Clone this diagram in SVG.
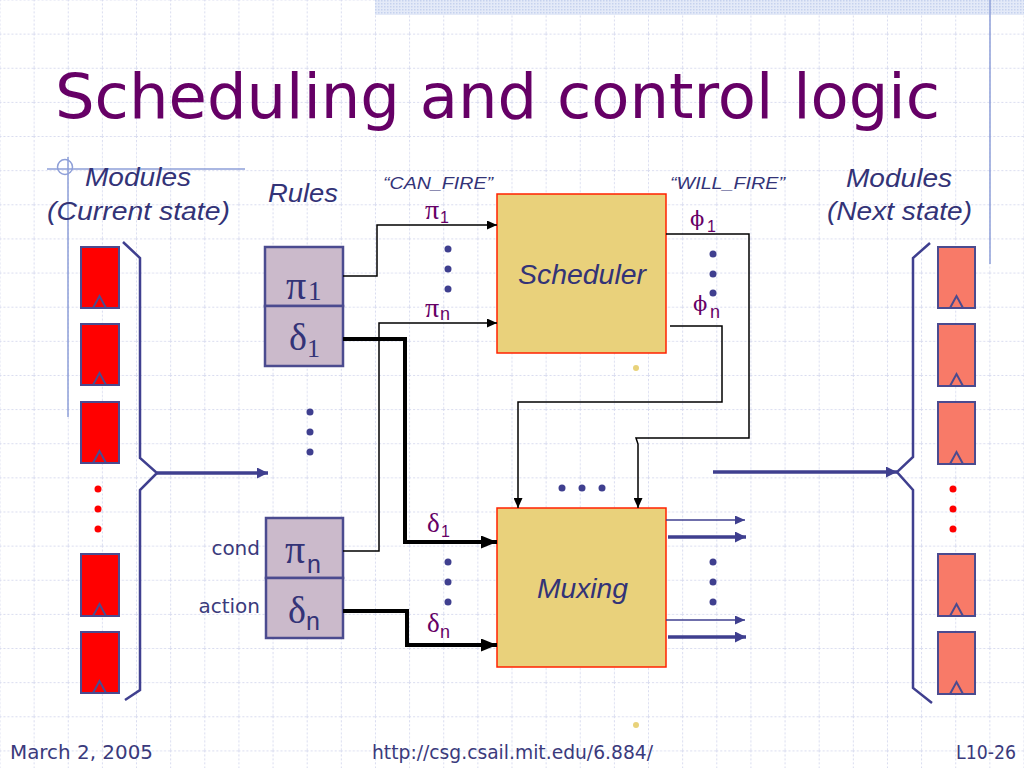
<svg xmlns="http://www.w3.org/2000/svg" width="1024" height="768" viewBox="0 0 1024 768">
<defs>
<pattern id="grid" width="34.1333" height="34.1333" patternUnits="userSpaceOnUse" x="-0.5" y="-0.5">
<path d="M0.5 0 V34.1333 M0 0.5 H34.1333" stroke="#d8dbef" stroke-width="1" stroke-dasharray="2 2" fill="none"/>
</pattern>
<pattern id="stip" width="3" height="3" patternUnits="userSpaceOnUse">
<rect width="3" height="3" fill="#e4eaf8"/>
<rect width="1.5" height="1.5" fill="#c6d2ee"/>
</pattern>
<marker id="ah" markerUnits="userSpaceOnUse" markerWidth="11" markerHeight="9" refX="10" refY="4.5" orient="auto">
<path d="M0,0 L10,4.5 L0,9 z" fill="#000"/>
</marker>
<marker id="ahT" markerUnits="userSpaceOnUse" markerWidth="17" markerHeight="13" refX="16" refY="6.5" orient="auto">
<path d="M0,0 L16,6.5 L0,13 z" fill="#000"/>
</marker>
<marker id="ab" markerUnits="userSpaceOnUse" markerWidth="11" markerHeight="9" refX="10" refY="4.5" orient="auto">
<path d="M0,0 L10,4.5 L0,9 z" fill="#3f3f8f"/>
</marker>
<marker id="abT" markerUnits="userSpaceOnUse" markerWidth="12" markerHeight="11" refX="11" refY="5.5" orient="auto">
<path d="M0,0 L11,5.5 L0,11 z" fill="#3f3f8f"/>
</marker>
</defs>
<style>
.title{font-family:"DejaVu Sans","Liberation Sans",sans-serif;font-size:62px;fill:#660066}
.lbl{font-family:"Liberation Sans",Arial,sans-serif;font-style:italic;fill:#333377}
.tah{font-family:"DejaVu Sans","Liberation Sans",sans-serif;fill:#3a3a7c}
.gr{font-family:"Liberation Serif","Times New Roman",serif;fill:#333377}
.sub{font-family:"Liberation Sans",Arial,sans-serif;fill:#333377}
.pgr{font-family:"Liberation Serif","DejaVu Serif","Times New Roman",serif;fill:#660066}
.phi{font-family:"DejaVu Serif","Liberation Serif",serif;fill:#660066}
.psub{font-family:"Liberation Sans",Arial,sans-serif;fill:#660066}
.mod{fill:#ff0000;stroke:#4b4b8f;stroke-width:2}
.modn{fill:#f87a68;stroke:#4b4b8f;stroke-width:2}
.tri{fill:none;stroke:#4b4b8f;stroke-width:2}
.rule{fill:#cbbacb;stroke:#4b4b8f;stroke-width:2.5}
.blk{fill:#e9d17b;stroke:#ff2200;stroke-width:1.5}
.br{fill:none;stroke:#3f3f8f;stroke-width:2.5}
.wire{fill:none;stroke:#000;stroke-width:1.5}
.wireT{fill:none;stroke:#000;stroke-width:4}
.bw{fill:none;stroke:#3f3f8f;stroke-width:1.5}
.bwT{fill:none;stroke:#3f3f8f;stroke-width:3.5}
.dot{fill:#3f3f8f}
.rdot{fill:#ff0000}
.ydot{fill:#e8d27a}
.deco{fill:none;stroke:#8e9fd8;stroke-width:1.5}
</style>
<rect width="1024" height="768" fill="#ffffff"/>
<rect width="1024" height="768" fill="url(#grid)"/>
<rect x="375" y="0" width="649" height="15" fill="url(#stip)"/>
<g id="decoration">
<line class="deco" x1="990" y1="0" x2="990" y2="264"/>
<line class="deco" x1="68" y1="157" x2="68" y2="417"/>
<line class="deco" x1="47" y1="169" x2="245" y2="169"/>
<circle class="deco" cx="65" cy="167" r="7.5"/>
</g>
<text class="title" x="55" y="118" textLength="885" lengthAdjust="spacingAndGlyphs">Scheduling and control logic</text>

<g id="labels">
<text class="lbl" x="85" y="186" font-size="25" textLength="106" lengthAdjust="spacingAndGlyphs">Modules</text>
<text class="lbl" x="47" y="220" font-size="25" textLength="183" lengthAdjust="spacingAndGlyphs">(Current state)</text>
<text class="lbl" x="268" y="202" font-size="25" textLength="70" lengthAdjust="spacingAndGlyphs">Rules</text>
<text class="lbl" x="846" y="187" font-size="25" textLength="106" lengthAdjust="spacingAndGlyphs">Modules</text>
<text class="lbl" x="827" y="220" font-size="25" textLength="145" lengthAdjust="spacingAndGlyphs">(Next state)</text>
<text class="lbl" x="383" y="189" font-size="17" textLength="110" lengthAdjust="spacingAndGlyphs">“CAN_FIRE”</text>
<text class="lbl" x="670" y="189" font-size="17" textLength="115" lengthAdjust="spacingAndGlyphs">“WILL_FIRE”</text>
<text class="tah" x="260" y="555" font-size="20" text-anchor="end">cond</text>
<text class="tah" x="260" y="613" font-size="20" text-anchor="end">action</text>
</g>

<g id="modules-current">
<rect class="mod" x="81" y="247" width="38" height="61"/><path class="tri" d="M93,308 L99.5,296 L106,308"/>
<rect class="mod" x="81" y="324" width="38" height="61"/><path class="tri" d="M93,385 L99.5,373 L106,385"/>
<rect class="mod" x="81" y="402" width="38" height="61"/><path class="tri" d="M93,463 L99.5,451 L106,463"/>
<circle class="rdot" cx="98" cy="489" r="3.5"/><circle class="rdot" cx="98" cy="509" r="3.5"/><circle class="rdot" cx="98" cy="529" r="3.5"/>
<rect class="mod" x="81" y="554" width="38" height="62"/><path class="tri" d="M93,616 L99.5,604 L106,616"/>
<rect class="mod" x="81" y="632" width="38" height="61"/><path class="tri" d="M93,693 L99.5,681 L106,693"/>
<path class="br" d="M123,242 L140,258 V458 L157,473 L140,490 V690 L125,700"/>
</g>

<g id="modules-next">
<rect class="modn" x="938" y="247" width="37" height="61"/><path class="tri" d="M950,308 L956.5,296 L963,308"/>
<rect class="modn" x="938" y="324" width="37" height="62"/><path class="tri" d="M950,386 L956.5,374 L963,386"/>
<rect class="modn" x="938" y="402" width="37" height="62"/><path class="tri" d="M950,464 L956.5,452 L963,464"/>
<circle class="rdot" cx="953" cy="489" r="3.5"/><circle class="rdot" cx="953" cy="509" r="3.5"/><circle class="rdot" cx="953" cy="529" r="3.5"/>
<rect class="modn" x="938" y="554" width="37" height="62"/><path class="tri" d="M950,616 L956.5,604 L963,616"/>
<rect class="modn" x="938" y="632" width="37" height="62"/><path class="tri" d="M950,694 L956.5,682 L963,694"/>
<path class="br" d="M930,243 L913,258 V457 L897,472 L913,490 V688 L932,703"/>
</g>

<g id="rule-1">
<rect class="rule" x="265" y="247" width="78" height="59"/>
<rect class="rule" x="265" y="306" width="78" height="60"/>
<text class="gr" x="286" y="299" font-size="40">π</text><text class="gr" x="308" y="300" font-size="27">1</text>
<text class="gr" x="289" y="350" font-size="38">δ</text><text class="gr" x="307" y="357" font-size="26">1</text>
</g>
<g id="rules-dots">
<circle class="dot" cx="310" cy="412" r="3.5"/><circle class="dot" cx="310" cy="432" r="3.5"/><circle class="dot" cx="310" cy="452" r="3.5"/>
</g>
<g id="rule-n">
<rect class="rule" x="266" y="518" width="77" height="60"/>
<rect class="rule" x="266" y="578" width="77" height="60"/>
<text class="gr" x="285" y="563" font-size="40">π</text><text class="sub" x="307" y="573" font-size="25">n</text>
<text class="gr" x="288" y="623" font-size="38">δ</text><text class="sub" x="306" y="630" font-size="25">n</text>
</g>

<g id="scheduler">
<rect class="blk" x="497" y="194" width="169" height="159"/>
<text class="lbl" x="518" y="284" font-size="27" textLength="128" lengthAdjust="spacingAndGlyphs">Scheduler</text>
</g>
<g id="muxing">
<rect class="blk" x="497" y="508" width="169" height="159"/>
<text class="lbl" x="537" y="598" font-size="27" textLength="91" lengthAdjust="spacingAndGlyphs">Muxing</text>
</g>

<g id="connectors">
<path class="wire" d="M343,276 H377 V225 H497" marker-end="url(#ah)"/>
<path class="wire" d="M343,551 H379 V323 H497" marker-end="url(#ah)"/>
<path class="wireT" d="M343,339 H405 V542 H497" marker-end="url(#ahT)"/>
<path class="wireT" d="M343,611 H407 V645 H497" marker-end="url(#ahT)"/>
<path class="wire" d="M666,234 H749 V438 H636 L638,444 V508" marker-end="url(#ah)"/>
<path class="wire" d="M670,326 H722 V402 H518 V508" marker-end="url(#ah)"/>
<path class="bw" d="M666,520 H745" marker-end="url(#ab)"/>
<path class="bwT" d="M668,537 H746" marker-end="url(#abT)"/>
<path class="bw" d="M666,620 H745" marker-end="url(#ab)"/>
<path class="bwT" d="M668,637 H746" marker-end="url(#abT)"/>
<path class="bwT" d="M157,473 H268" marker-end="url(#abT)"/>
<path class="bwT" d="M713,472 H897" marker-end="url(#abT)"/>
</g>

<g id="wire-labels">
<text class="pgr" x="425" y="219" font-size="28">π</text><text class="psub" x="440" y="223" font-size="16">1</text>
<circle class="dot" cx="448" cy="249" r="3.5"/><circle class="dot" cx="448" cy="269" r="3.5"/><circle class="dot" cx="448" cy="289" r="3.5"/>
<text class="pgr" x="425" y="317" font-size="28">π</text><text class="psub" x="440" y="320" font-size="18">n</text>
<text class="phi" x="690" y="226" font-size="21">ϕ</text><text class="psub" x="707" y="232" font-size="16">1</text>
<circle class="dot" cx="713" cy="254" r="3.5"/><circle class="dot" cx="713" cy="274" r="3.5"/><circle class="dot" cx="713" cy="293" r="3.5"/>
<text class="phi" x="693" y="311" font-size="21">ϕ</text><text class="psub" x="710" y="318" font-size="18">n</text>
<text class="pgr" x="427" y="532" font-size="27">δ</text><text class="psub" x="441" y="537" font-size="16">1</text>
<circle class="dot" cx="448" cy="562" r="3.5"/><circle class="dot" cx="448" cy="582" r="3.5"/><circle class="dot" cx="448" cy="602" r="3.5"/>
<text class="pgr" x="427" y="632" font-size="27">δ</text><text class="psub" x="440" y="638" font-size="18">n</text>
<circle class="dot" cx="562" cy="488" r="3.5"/><circle class="dot" cx="582" cy="488" r="3.5"/><circle class="dot" cx="602" cy="488" r="3.5"/>
<circle class="dot" cx="713" cy="562" r="3.5"/><circle class="dot" cx="713" cy="582" r="3.5"/><circle class="dot" cx="713" cy="602" r="3.5"/>
<circle class="ydot" cx="636" cy="368" r="3"/>
<circle class="ydot" cx="636" cy="725" r="3"/>
</g>

<g id="footer">
<text class="tah" x="10" y="759" font-size="20" textLength="143" lengthAdjust="spacingAndGlyphs">March 2, 2005</text>
<text class="tah" x="372" y="759" font-size="20" textLength="281" lengthAdjust="spacingAndGlyphs">http://csg.csail.mit.edu/6.884/</text>
<text class="tah" x="956" y="759" font-size="20" textLength="60" lengthAdjust="spacingAndGlyphs">L10-26</text>
</g>
</svg>
